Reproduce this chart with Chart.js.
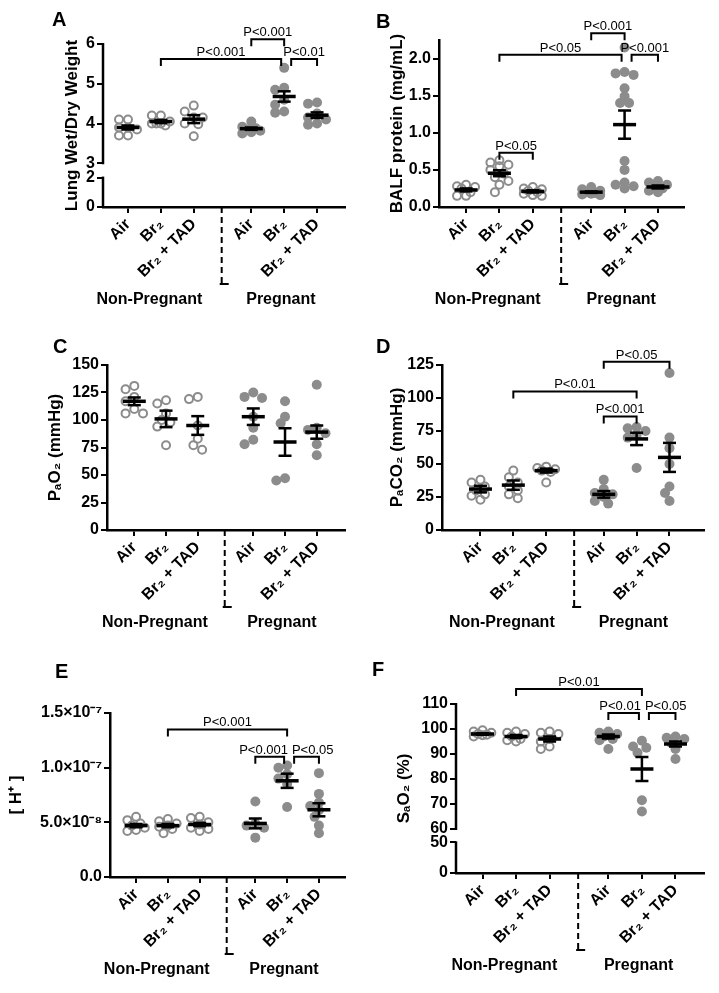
<!DOCTYPE html>
<html lang="en">
<head>
<meta charset="UTF-8">
<title>Br2 exposure - pregnant vs non-pregnant</title>
<script src="https://cdn.jsdelivr.net/npm/chart.js"></script>
<style>
  body { margin: 0; background: #fff; }
  #fig { position: relative; width: 719px; height: 993px; }
  .panel { position: absolute; }
  .letter { position: absolute; font: bold 20px 'Liberation Sans', Arial, sans-serif; color: #000; }
</style>
</head>
<body>
<div id="fig"></div>
<script>
const FONT = "'Liberation Sans', Arial, sans-serif";
const GREY = '#8c8c8c';

// shared x categories
const groupLabels = ['Air', 'Br₂', 'Br₂ + TAD', 'Air', 'Br₂', 'Br₂ + TAD'];
const xPos = [0, 1, 2, 3.75, 4.75, 5.75];
const sectionLabels = ['Non-Pregnant', 'Pregnant'];
const sectionPos = [0.65, 4.65];
const DIVIDER = 2.85;

// A - lung wet/dry weight
const wetDryPts = [
  [4.1, 4.1, 3.9, 3.9, 3.85, 3.7, 3.7],
  [4.2, 4.2, 4.05, 4.0, 4.0, 3.95, 4.0],
  [4.45, 4.3, 4.15, 4.15, 4.0, 3.98, 3.68],
  [4.05, 3.92, 3.88, 3.85, 3.82, 3.78, 3.75],
  [5.4, 4.9, 4.85, 4.6, 4.47, 4.3, 4.27],
  [4.53, 4.5, 4.25, 4.15, 4.1, 4.0, 3.97]
];
const wetDryMean = [3.9, 4.05, 4.11, 3.87, 4.68, 4.21];
const wetDrySem = [0.05, 0.04, 0.1, 0.03, 0.13, 0.07];
const wetDryTicks = [0, 2, 3, 4, 5, 6];
const wetDryTickText = ['0', '2', '3', '4', '5', '6'];
const wetDryBrackets = [[1, 4, 5.62, 'P<0.001'], [3, 4, 6.12, 'P<0.001'], [4, 5, 5.62, 'P<0.01']];

// B - BALF protein
const balfPts = [
  [0.3, 0.28, 0.27, 0.25, 0.2, 0.15, 0.15],
  [0.63, 0.6, 0.57, 0.55, 0.5, 0.45, 0.4, 0.35, 0.3, 0.2],
  [0.27, 0.25, 0.24, 0.22, 0.2, 0.18, 0.16, 0.15],
  [0.27, 0.24, 0.22, 0.2, 0.19, 0.18, 0.17, 0.16],
  [2.15, 1.82, 1.8, 1.78, 1.6, 1.49, 1.4, 1.4, 0.62, 0.5, 0.33, 0.3, 0.28, 0.25],
  [0.35, 0.33, 0.3, 0.27, 0.25, 0.22, 0.2]
];
const balfMean = [0.23, 0.455, 0.21, 0.2, 1.11, 0.27];
const balfSem = [0.02, 0.04, 0.015, 0.01, 0.19, 0.02];
const balfTicks = [0, 0.5, 1, 1.5, 2];
const balfTickText = ['0.0', '0.5', '1.0', '1.5', '2.0'];
const balfBrackets = [[3, 4, 2.34, 'P<0.001'], [1, 4, 2.05, 'P<0.05'], [4, 5, 2.05, 'P<0.001'], [1, 2, 0.73, 'P<0.05']];

// C - PaO2
const pao2Pts = [
  [131, 128, 121, 117, 110, 106, 106],
  [118, 115, 106, 100, 98, 94, 77],
  [121, 119, 95, 83, 77, 73],
  [125, 121, 120, 103, 93, 82, 78],
  [117, 103, 97, 47, 45],
  [132, 93, 91, 88, 78, 68]
];
const pao2Mean = [117, 101, 95, 103, 80, 89];
const pao2Sem = [3.5, 7.5, 8.5, 7.5, 12.5, 6];
const pao2Ticks = [0, 25, 50, 75, 100, 125, 150];
const pao2TickText = ['0', '25', '50', '75', '100', '125', '150'];
const pao2Brackets = [];

// D - PaCO2
const paco2Pts = [
  [38, 36, 33, 30, 27, 26, 23],
  [45, 40, 36, 33, 30, 27, 24],
  [48, 47, 46, 45, 44, 36],
  [38, 31, 28, 27, 25, 22, 20],
  [78, 77, 75, 72, 70, 47],
  [119, 70, 62, 50, 33, 28, 22]
];
const paco2Mean = [31, 34, 45, 27, 69, 55];
const paco2Sem = [2.5, 3.5, 1.5, 2.5, 4.7, 11];
const paco2Ticks = [0, 25, 50, 75, 100, 125];
const paco2TickText = ['0', '25', '50', '75', '100', '125'];
const paco2Brackets = [[3, 5, 127.5, 'P<0.05'], [1, 4, 105, 'P<0.01'], [3, 4, 86, 'P<0.001']];

// E - [H+]
const hPts = [
  [5.5e-8, 5.2e-8, 4.9e-8, 4.7e-8, 4.5e-8, 4.3e-8, 4.2e-8],
  [5.3e-8, 5.1e-8, 4.9e-8, 4.7e-8, 4.6e-8, 4.4e-8, 4.0e-8],
  [5.5e-8, 5.4e-8, 5.0e-8, 4.8e-8, 4.5e-8, 4.4e-8, 4.2e-8],
  [6.9e-8, 4.9e-8, 4.7e-8, 4.5e-8, 3.6e-8],
  [10.2e-8, 10.0e-8, 9.4e-8, 9.0e-8, 8.5e-8, 6.4e-8],
  [9.5e-8, 7.6e-8, 6.8e-8, 6.5e-8, 6.1e-8, 5.5e-8, 4.7e-8, 4.0e-8]
];
const hMean = [4.7e-8, 4.7e-8, 4.8e-8, 4.9e-8, 8.8e-8, 6.15e-8];
const hSem = [0.15e-8, 0.15e-8, 0.15e-8, 0.45e-8, 0.65e-8, 0.6e-8];
const hTicks = [0, 5e-8, 1e-7, 1.5e-7];
const hTickText = ['0.0', '5.0×10⁻⁸', '1.0×10⁻⁷', '1.5×10⁻⁷'];
const hBrackets = [[1, 4, 1.35e-7, 'P<0.001'], [3, 4, 1.1e-7, 'P<0.001'], [4, 5, 1.1e-7, 'P<0.05']];

// F - SaO2
const sao2Pts = [
  [99.5, 99, 98.5, 98, 97.7, 97.5, 97],
  [99, 98.5, 98, 97, 96, 95.5, 95],
  [99, 98.5, 98, 96, 95, 93, 92],
  [99, 98.5, 98, 97, 96, 95.5, 92],
  [95.3, 93, 92.5, 90.5, 71.5, 67],
  [97, 96.5, 96, 94.5, 92, 88]
];
const sao2Mean = [98, 97, 96, 97, 84, 94];
const sao2Sem = [0.3, 0.6, 1.0, 0.8, 4.8, 1.0];
const sao2Ticks = [0, 50, 60, 70, 80, 90, 100, 110];
const sao2TickText = ['0', '50', '60', '70', '80', '90', '100', '110'];
const sao2Brackets = [[1, 4, 116, 'P<0.01'], [3, 4, 106.4, 'P<0.01'], [4, 5, 106.4, 'P<0.05']];

// panel layout (page px)
const panels = [
  { letter: 'A', lx: 52, ly: 8, left: 0, top: 0, h: 330, plot: { l: 103, r: 345, t: 44, b: 207 }, titleX: 72,
    xMin: -0.76, xMax: 6.60, yTop: 6, brk: { at: 2, resume: 3, low: 0.37, gap: 0.36 },
    title: 'Lung Wet/Dry Weight', pts: wetDryPts, mean: wetDryMean, sem: wetDrySem,
    ticks: wetDryTicks, tickText: wetDryTickText, brackets: wetDryBrackets },
  { letter: 'B', lx: 376, ly: 10, left: 359, top: 0, h: 330, plot: { l: 80, r: 325, t: 40, b: 207 }, titleX: 38,
    xMin: -0.81, xMax: 6.53, yTop: 2.25,
    title: 'BALF protein (mg/mL)', pts: balfPts, mean: balfMean, sem: balfSem,
    ticks: balfTicks, tickText: balfTickText, brackets: balfBrackets },
  { letter: 'C', lx: 53, ly: 335, left: 0, top: 330, h: 330, plot: { l: 107, r: 352, t: 35, b: 200 }, titleX: 55,
    xMin: -0.86, xMax: 6.64, yTop: 150,
    title: 'PₐO₂ (mmHg)', pts: pao2Pts, mean: pao2Mean, sem: pao2Sem,
    ticks: pao2Ticks, tickText: pao2TickText, brackets: pao2Brackets },
  { letter: 'D', lx: 376, ly: 335, left: 359, top: 330, h: 330, plot: { l: 83, r: 348, t: 35, b: 200 }, titleX: 38,
    xMin: -1.17, xMax: 6.80, yTop: 125,
    title: 'PₐCO₂ (mmHg)', pts: paco2Pts, mean: paco2Mean, sem: paco2Sem,
    ticks: paco2Ticks, tickText: paco2TickText, brackets: paco2Brackets },
  { letter: 'E', lx: 55, ly: 660, left: 0, top: 660, h: 333, plot: { l: 110, r: 353, t: 53, b: 217 }, titleX: 16,
    xMin: -0.82, xMax: 6.57, yTop: 1.5e-7,
    title: '[ H⁺ ]', pts: hPts, mean: hMean, sem: hSem,
    ticks: hTicks, tickText: hTickText, brackets: hBrackets },
  { letter: 'F', lx: 372, ly: 658, left: 359, top: 660, h: 333, plot: { l: 97, r: 350, t: 44, b: 213 }, titleX: 45,
    xMin: -0.79, xMax: 6.60, yTop: 110, brk: { at: 50, resume: 60, low: 0.2454, gap: 5.33 },
    title: 'SₐO₂ (%)', pts: sao2Pts, mean: sao2Mean, sem: sao2Sem,
    ticks: sao2Ticks, tickText: sao2TickText, brackets: sao2Brackets }
];

// spread overlapping points sideways (pixel offsets), kept in a narrow band
function swarm(vals, pxY, r) {
  const placed = [];
  const out = new Array(vals.length);
  const order = vals.map((v, i) => i).sort((a, b) => vals[b] - vals[a]);
  const cands = [0, -4.5, 4.5, -9, 9];
  for (const i of order) {
    const yy = vals[i] * pxY;
    let best = 0, bestD = -1;
    for (const c of cands) {
      const d = placed.length ? Math.min(...placed.map(p => Math.hypot(p[0] - c, p[1] - yy))) : Infinity;
      if (d >= r * 1.5) { best = c; bestD = d; break; }
      if (d > bestD) { bestD = d; best = c; }
    }
    placed.push([best, yy]);
    out[i] = best;
  }
  return out;
}

const decoPlugin = {
  id: 'deco',
  afterDraw(chart, args, o) {
    const { ctx, chartArea: ca } = chart;
    const x = chart.scales.x, y = chart.scales.y;
    ctx.save();
    ctx.strokeStyle = '#000';
    ctx.fillStyle = '#000';

    // broken y axis line
    if (o.segments) {
      ctx.lineWidth = 2.5;
      o.segments.forEach(([a, b]) => {
        ctx.beginPath();
        ctx.moveTo(ca.left, y.getPixelForValue(o.ty(a)) + 1);
        ctx.lineTo(ca.left, y.getPixelForValue(o.ty(b)) - 1);
        ctx.stroke();
      });
    }

    // dashed divider between groups
    const dx = x.getPixelForValue(DIVIDER);
    ctx.lineWidth = 2;
    ctx.setLineDash([6, 4]);
    ctx.beginPath();
    ctx.moveTo(dx, ca.bottom);
    ctx.lineTo(dx, ca.bottom + 77);
    ctx.stroke();
    ctx.setLineDash([]);
    ctx.beginPath();
    ctx.moveTo(dx - 2, ca.bottom + 77);
    ctx.lineTo(dx + 7, ca.bottom + 77);
    ctx.stroke();

    // section labels
    ctx.font = 'bold 16px ' + FONT;
    ctx.textAlign = 'center';
    ctx.textBaseline = 'middle';
    sectionLabels.forEach((s, i) => ctx.fillText(s, x.getPixelForValue(sectionPos[i]), ca.bottom + 93));

    // significance brackets
    ctx.font = '13px ' + FONT;
    ctx.textBaseline = 'alphabetic';
    ctx.lineWidth = 2;
    const items = o.brackets.map(([a, b, v, t]) => {
      const sharedLeft = o.brackets.some(q => q[2] === v && q[1] === a);
      const sharedRight = o.brackets.some(q => q[2] === v && q[0] === b);
      const x1 = x.getPixelForValue(xPos[a]) + (sharedLeft ? 7 : 0);
      const x2 = x.getPixelForValue(xPos[b]) - (sharedRight ? 3 : 0);
      return { x1, x2, v, t, py: y.getPixelForValue(o.ty(v)), cx: (x1 + x2) / 2, w: ctx.measureText(t).width };
    });
    // push apart labels that collide on the same level
    items.forEach(m => items.forEach(n => {
      if (m !== n && m.v === n.v && m.cx < n.cx) {
        const need = (m.w + n.w) / 2 + 4 - (n.cx - m.cx);
        if (need > 0) { m.cx -= need / 2; n.cx += need / 2; }
      }
    }));
    items.forEach(m => {
      ctx.beginPath();
      ctx.moveTo(m.x1, m.py + 7);
      ctx.lineTo(m.x1, m.py);
      ctx.lineTo(m.x2, m.py);
      ctx.lineTo(m.x2, m.py + 7);
      ctx.stroke();
      ctx.fillText(m.t, m.cx, m.py - 3);
    });
    ctx.restore();
  }
};

const fig = document.getElementById('fig');

panels.forEach(p => {
  const W = 360, H = p.h;
  const letter = document.createElement('div');
  letter.className = 'letter';
  letter.style.left = p.lx + 'px';
  letter.style.top = p.ly + 'px';
  letter.textContent = p.letter;

  const canvas = document.createElement('canvas');
  canvas.className = 'panel';
  canvas.width = W;
  canvas.height = H;
  canvas.style.left = p.left + 'px';
  canvas.style.top = p.top + 'px';
  fig.appendChild(canvas);
  fig.appendChild(letter);

  const b = p.brk;
  const ty = b ? (v => v <= b.at ? v * b.low : b.at * b.low + b.gap + (v - b.resume)) : (v => v);
  const yMax = ty(p.yTop);
  const pxY = (p.plot.b - p.plot.t) / yMax;
  const pxX = (p.plot.r - p.plot.l) / (p.xMax - p.xMin);
  const padLeft = p.titleX - 14.2;

  const openPts = [], filledPts = [];
  p.pts.forEach((g, gi) => {
    const u = g.map(ty);
    const offs = swarm(u, pxY, 5);
    u.forEach((val, j) => (gi < 3 ? openPts : filledPts).push({ x: xPos[gi] + offs[j] / pxX, y: val }));
  });
  const means = p.mean.map((m, i) => ({ x: xPos[i], y: ty(m) }));
  const caps = [], whiskers = [];
  p.mean.forEach((m, i) => {
    caps.push({ x: xPos[i], y: ty(m + p.sem[i]) }, { x: xPos[i], y: ty(m - p.sem[i]) });
    whiskers.push({ x: xPos[i], y: ty(m - p.sem[i]) }, { x: xPos[i], y: ty(m + p.sem[i]) }, { x: xPos[i], y: null });
  });

  new Chart(canvas, {
    type: 'scatter',
    data: {
      datasets: [
        { data: means, pointStyle: 'line', pointRadius: 11.5, pointBorderWidth: 3.5, pointBorderColor: '#000', order: 0, clip: false },
        { data: caps, pointStyle: 'line', pointRadius: 6.5, pointBorderWidth: 2.5, pointBorderColor: '#000', order: 0, clip: false },
        { data: whiskers, showLine: true, spanGaps: false, borderColor: '#000', borderWidth: 2.5, pointRadius: 0, order: 1, clip: false },
        { data: openPts, pointRadius: 4, pointBorderWidth: 2, pointBorderColor: GREY, pointBackgroundColor: 'rgba(0,0,0,0)', order: 2, clip: false },
        { data: filledPts, pointRadius: 5, pointBorderWidth: 0, pointBackgroundColor: GREY, pointBorderColor: GREY, order: 2, clip: false }
      ]
    },
    options: {
      responsive: false,
      animation: false,
      events: [],
      devicePixelRatio: 1,
      layout: { padding: { left: padLeft, right: W - p.plot.r, top: p.plot.t, bottom: 0 } },
      plugins: {
        legend: { display: false },
        tooltip: { enabled: false },
        deco: { ty, brackets: p.brackets, segments: b ? [[0, b.at], [b.resume, p.yTop]] : null }
      },
      scales: {
        x: {
          type: 'linear', min: p.xMin, max: p.xMax,
          afterBuildTicks: s => { s.ticks = xPos.map(v => ({ value: v })); },
          afterFit: s => { s.height = H - p.plot.b; },
          ticks: {
            callback: (v, i) => groupLabels[i],
            minRotation: 45, maxRotation: 45, autoSkip: false, padding: 2,
            color: '#000', font: { family: FONT, size: 16, weight: 'bold' }
          },
          grid: { drawOnChartArea: false, drawTicks: true, tickLength: 6, color: '#000', lineWidth: 2 },
          border: { display: true, color: '#000', width: 2.5 }
        },
        y: {
          type: 'linear', min: 0, max: yMax,
          afterBuildTicks: s => { s.ticks = p.ticks.map(v => ({ value: ty(v) })); },
          afterFit: s => { s.width = p.plot.l - padLeft; },
          ticks: {
            callback: (v, i) => p.tickText[i],
            autoSkip: false, padding: 2,
            color: '#000', font: { family: FONT, size: 16, weight: 'bold' }
          },
          grid: { drawOnChartArea: false, drawTicks: true, tickLength: 6, color: '#000', lineWidth: 2 },
          border: { display: !b, color: '#000', width: 2.5 },
          title: { display: true, text: p.title, color: '#000', padding: { top: 4, bottom: 4 },
                   font: { family: FONT, size: 17, weight: 'bold' } }
        }
      }
    },
    plugins: [decoPlugin]
  });
});
</script>
</body>
</html>
